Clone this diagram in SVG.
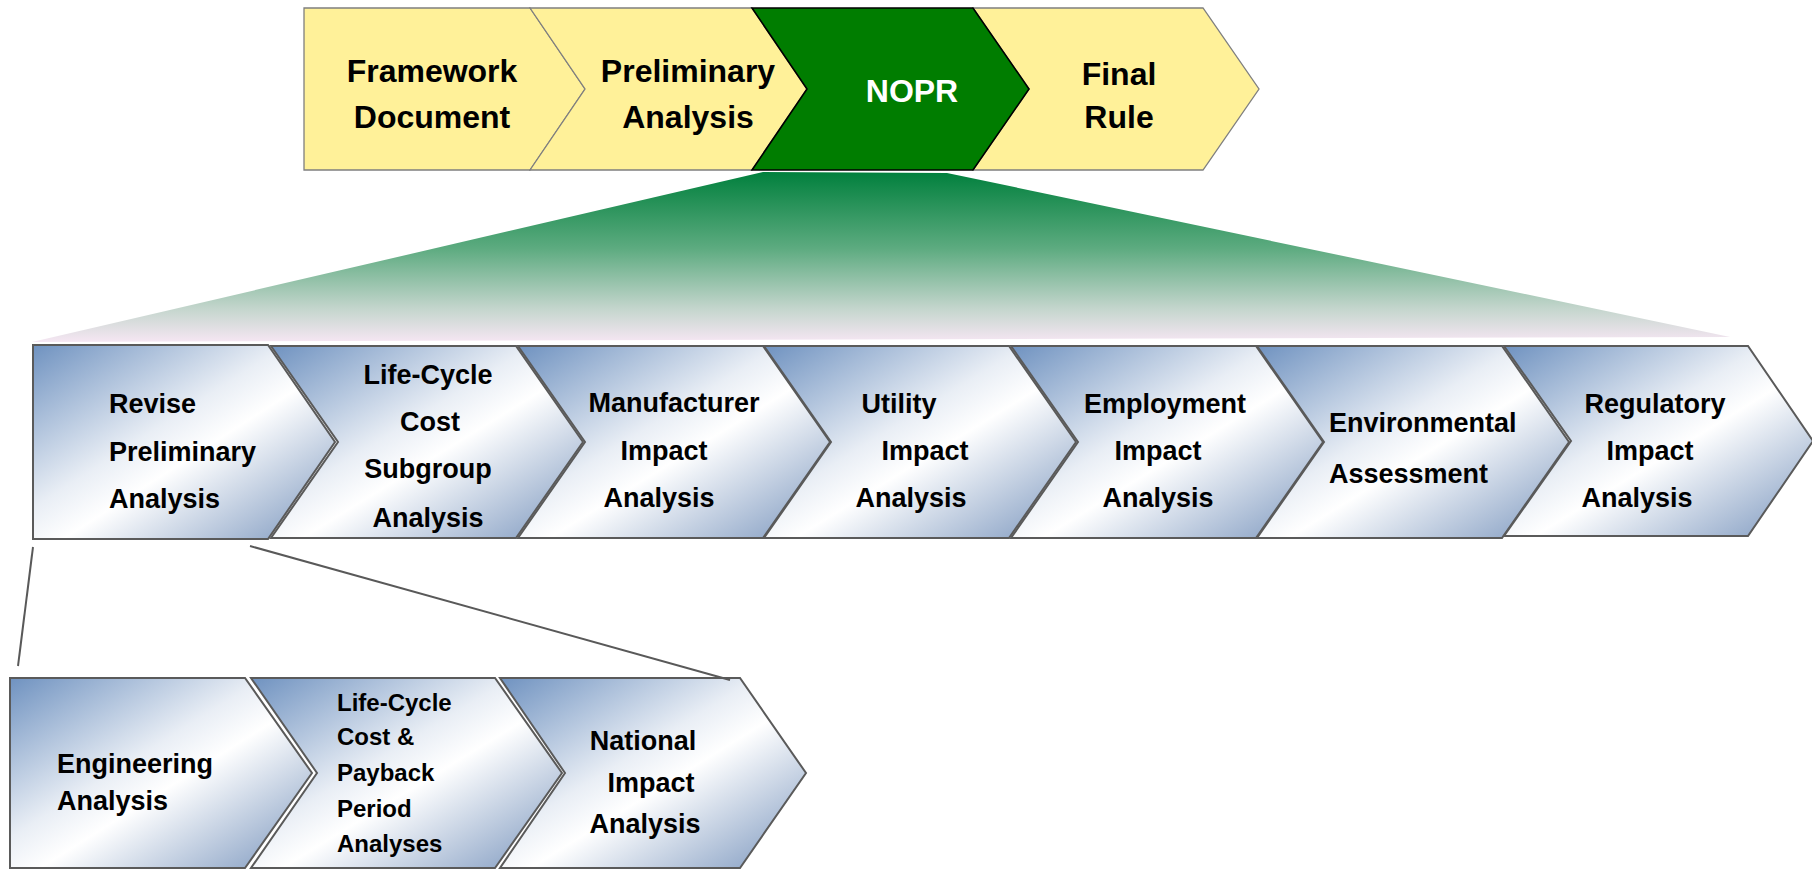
<svg xmlns="http://www.w3.org/2000/svg" width="1812" height="869" viewBox="0 0 1812 869">
  <defs>
    <!-- steel-blue / white diagonal fill for the analysis chevrons -->
    <linearGradient id="chev" x1="0" y1="0" x2="1" y2="1">
      <stop offset="0" stop-color="#6f92c0"/>
      <stop offset="0.42" stop-color="#e9eef5"/>
      <stop offset="0.55" stop-color="#ffffff"/>
      <stop offset="1" stop-color="#7995bd"/>
    </linearGradient>
    <!-- green fan that expands the NOPR stage -->
    <linearGradient id="fan" x1="0" y1="0" x2="0" y2="1">
      <stop offset="0" stop-color="#01803d"/>
      <stop offset="0.45" stop-color="#5dab80"/>
      <stop offset="0.8" stop-color="#c3d5cc"/>
      <stop offset="1" stop-color="#f6e6f3"/>
    </linearGradient>
  </defs>
  <style>
    text { font-family: "Liberation Sans", Arial, sans-serif; font-weight: bold; fill: #000; }
    .stage { fill: #fff199; stroke: #7f7f7f; stroke-width: 1.3; }
    .stage-on { fill: #007d00; stroke: #000; stroke-width: 1.6; }
    .step { fill: url(#chev); stroke: #5a5a5a; stroke-width: 2; }
    .big { font-size: 32px; }
    .mid { font-size: 27px; }
    .small { font-size: 24px; }
    .c { text-anchor: middle; }
    .link { stroke: #595959; stroke-width: 2; fill: none; }
  </style>

  <rect width="1812" height="869" fill="#ffffff"/>

  <!-- fan below NOPR -->
  <polygon id="fan-shape" points="763,172 947,173 1730,337 32,342" fill="url(#fan)"/>

  <!-- top row: rulemaking stages -->
  <g id="stage-framework">
    <polygon class="stage" points="304,8 530,8 585,89 530,170 304,170"/>
    <text class="big c" x="432" y="82">Framework</text>
    <text class="big c" x="432" y="128">Document</text>
  </g>
  <g id="stage-preliminary">
    <polygon class="stage" points="530,8 752,8 807,89 752,170 530,170 585,89"/>
    <text class="big c" x="688" y="82">Preliminary</text>
    <text class="big c" x="688" y="128">Analysis</text>
  </g>
  <g id="stage-final">
    <polygon class="stage" points="973,8 1203,8 1259,89 1203,170 973,170 1029,89"/>
    <text class="big c" x="1119" y="85">Final</text>
    <text class="big c" x="1119" y="128">Rule</text>
  </g>
  <g id="stage-nopr">
    <polygon class="stage-on" points="752,8 973,8 1029,89 973,170 752,170 807,89"/>
    <text class="big c" x="912" y="102" style="fill:#ffffff">NOPR</text>
  </g>

  <!-- middle row: NOPR analyses -->
  <g id="step-revise">
    <polygon class="step" points="33,345 268,345 335,442 268,539 33,539"/>
    <text class="mid" x="109" y="413">Revise</text>
    <text class="mid" x="109" y="461">Preliminary</text>
    <text class="mid" x="109" y="508">Analysis</text>
  </g>
  <g id="step-lcc-subgroup">
    <polygon class="step" points="271,346 516,346 583,442 516,538 271,538 338,442"/>
    <text class="mid c" x="428" y="384">Life-Cycle</text>
    <text class="mid c" x="430" y="431">Cost</text>
    <text class="mid c" x="428" y="478">Subgroup</text>
    <text class="mid c" x="428" y="527">Analysis</text>
  </g>
  <g id="step-manufacturer">
    <polygon class="step" points="518,346 763,346 830,442 763,538 518,538 585,442"/>
    <text class="mid c" x="674" y="412">Manufacturer</text>
    <text class="mid c" x="664" y="460">Impact</text>
    <text class="mid c" x="659" y="507">Analysis</text>
  </g>
  <g id="step-utility">
    <polygon class="step" points="764,346 1009,346 1076,442 1009,538 764,538 831,442"/>
    <text class="mid c" x="899" y="413">Utility</text>
    <text class="mid c" x="925" y="460">Impact</text>
    <text class="mid c" x="911" y="507">Analysis</text>
  </g>
  <g id="step-employment">
    <polygon class="step" points="1011,346 1256,346 1323,442 1256,538 1011,538 1078,442"/>
    <text class="mid c" x="1165" y="413">Employment</text>
    <text class="mid c" x="1158" y="460">Impact</text>
    <text class="mid c" x="1158" y="507">Analysis</text>
  </g>
  <g id="step-environmental">
    <polygon class="step" points="1257,346 1502,346 1569,442 1502,538 1257,538 1324,442"/>
    <text class="mid" x="1329" y="432">Environmental</text>
    <text class="mid" x="1329" y="483">Assessment</text>
  </g>
  <g id="step-regulatory">
    <polygon class="step" points="1504,346 1748,346 1813,441 1748,536 1504,536 1571,441"/>
    <text class="mid c" x="1655" y="413">Regulatory</text>
    <text class="mid c" x="1650" y="460">Impact</text>
    <text class="mid c" x="1637" y="507">Analysis</text>
  </g>

  <!-- bottom row: preliminary analysis breakdown -->
  <g id="step-engineering">
    <polygon class="step" points="10,678 245,678 312,773 245,868 10,868"/>
    <text class="mid" x="57" y="773">Engineering</text>
    <text class="mid" x="57" y="810">Analysis</text>
  </g>
  <g id="step-lcc-payback">
    <polygon class="step" points="251,678 495,678 562,773 495,868 251,868 317,773"/>
    <text class="small" x="337" y="711">Life-Cycle</text>
    <text class="small" x="337" y="745">Cost &amp;</text>
    <text class="small" x="337" y="781">Payback</text>
    <text class="small" x="337" y="817">Period</text>
    <text class="small" x="337" y="852">Analyses</text>
  </g>
  <g id="step-national">
    <polygon class="step" points="500,678 740,678 806,773 740,868 500,868 565,773"/>
    <text class="mid c" x="643" y="750">National</text>
    <text class="mid c" x="651" y="792">Impact</text>
    <text class="mid c" x="645" y="833">Analysis</text>
  </g>

  <!-- connectors from Revise Preliminary Analysis down to its breakdown -->
  <g id="connectors">
    <line class="link" x1="33" y1="547" x2="18" y2="666"/>
    <line class="link" x1="250" y1="546" x2="730" y2="680"/>
  </g>
</svg>
